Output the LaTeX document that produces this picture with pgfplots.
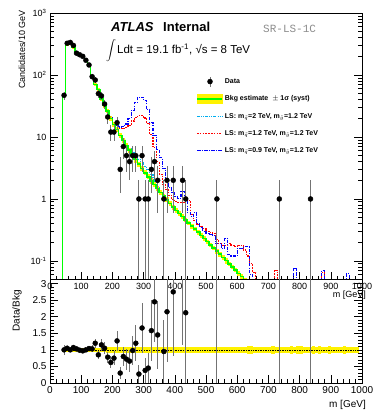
\documentclass[border=0pt]{standalone}
\usepackage{pgfplots}
\pgfplotsset{compat=1.18}
\usepackage{pgfplotstable}
\usepackage{fontspec}
\setmainfont{Liberation Sans}
\setmonofont{Liberation Mono}

% bin left edge, background, relative syst. error, stacked signal totals
\pgfplotstableread{
x bkg e cy rd bl
0 0.05 0.06 0.05 0.05 0.05
40 47 0.06 47 47 47
50 310 0.05 310 310 310
60 335 0.05 335 335 335
70 280 0.05 280 280 280
80 230 0.05 230 230 230
90 214 0.05 214 214 214
100 203 0.05 203 203 203
110 175 0.05 175 175 175
120 140 0.05 140 140 140
130 95 0.06 95 95 95
140 70 0.06 70 70 70
150 58 0.07 58 58 58
160 41 0.07 41 41 41
170 32 0.07 32 32 32
180 26 0.08 26 26 26
190 20 0.08 20 20 20.5
200 16 0.09 16 16 17
210 13.2 0.09 13.2 14.2 15.2
220 10.5 0.09 10.6 13.5 14.5
230 8.8 0.10 9.0 13.8 14.8
240 7.2 0.09 7.6 14.2 16.2
250 6.1 0.10 6.6 15.1 20
260 5.1 0.09 5.7 18.1 27
270 4.3 0.10 5.0 20.3 36
280 3.65 0.09 4.4 22.2 43.5
290 3.1 0.10 3.8 22.1 44
300 2.65 0.09 3.35 20.2 38.5
310 2.28 0.09 2.95 16.3 27.3
320 1.97 0.10 2.45 11.0 17
330 1.7 0.09 1.95 6.7 10.7
340 1.47 0.10 1.6 3.97 6.3
350 1.28 0.09 1.33 2.5 4.6
360 1.11 0.10 1.15 1.71 3.1
370 0.97 0.09 1.0 1.42 2.0
380 0.85 0.10 0.87 1.15 1.55
390 0.74 0.09 0.74 0.99 1.29
400 0.65 0.09 0.65 0.9 1.1
410 0.58 0.10 0.58 0.88 1.03
420 0.52 0.09 0.52 0.87 1.32
430 0.46 0.09 0.46 0.91 0.96
440 0.41 0.08 0.41 0.96 0.6
450 0.365 0.09 0.365 0.57 0.52
460 0.325 0.08 0.325 0.45 0.6
470 0.29 0.09 0.29 0.39 0.4
480 0.258 0.08 0.258 0.36 0.35
490 0.23 0.09 0.23 0.33 0.3
500 0.205 0.08 0.205 0.3 0.275
510 0.182 0.09 0.182 0.29 0.27
520 0.162 0.08 0.162 0.28 0.26
530 0.144 0.09 0.144 0.22 0.19
540 0.128 0.08 0.128 0.19 0.19
550 0.114 0.09 0.114 0.18 0.16
560 0.101 0.10 0.101 0.18 0.23
570 0.09 0.08 0.09 0.19 0.125
580 0.08 0.09 0.08 0.18 0.12
590 0.071 0.08 0.071 0.17 0.12
600 0.063 0.09 0.063 0.18 0.16
610 0.056 0.10 0.056 0.176 0.16
620 0.05 0.08 0.05 0.15 0.17
630 0.05 0.11 0.05 0.12 0.17
640 0.05 0.12 0.05 0.09 0.06
650 0.05 0.10 0.05 0.065 0.05
660 0.05 0.08 0.05 0.05 0.05
670 0.05 0.09 0.05 0.05 0.05
680 0.05 0.08 0.05 0.05 0.05
690 0.05 0.09 0.05 0.05 0.05
700 0.05 0.10 0.05 0.05 0.05
710 0.05 0.12 0.05 0.05 0.05
720 0.05 0.09 0.05 0.07 0.05
730 0.05 0.08 0.05 0.05 0.05
740 0.05 0.09 0.05 0.05 0.05
750 0.05 0.10 0.05 0.05 0.05
760 0.05 0.09 0.05 0.05 0.05
770 0.05 0.11 0.05 0.05 0.05
780 0.05 0.10 0.05 0.05 0.075
790 0.05 0.12 0.05 0.05 0.05
800 0.05 0.13 0.05 0.05 0.05
810 0.05 0.09 0.05 0.05 0.05
820 0.05 0.10 0.05 0.05 0.05
830 0.05 0.09 0.05 0.05 0.05
840 0.05 0.11 0.05 0.05 0.05
850 0.05 0.10 0.05 0.05 0.05
860 0.05 0.12 0.05 0.05 0.05
870 0.05 0.09 0.05 0.065 0.07
880 0.05 0.10 0.05 0.05 0.05
890 0.05 0.12 0.05 0.05 0.05
900 0.05 0.08 0.05 0.05 0.05
910 0.05 0.10 0.05 0.05 0.05
920 0.05 0.09 0.05 0.05 0.05
930 0.05 0.10 0.05 0.05 0.05
940 0.05 0.12 0.05 0.05 0.05
950 0.05 0.10 0.05 0.05 0.062
960 0.05 0.09 0.05 0.05 0.05
970 0.05 0.09 0.05 0.05 0.05
980 0.05 0.10 0.05 0.05 0.05
990 0.05 0.15 0.05 0.05 0.05
1000 0.05 0.15 0.05 0.05 0.05
}\hist

\pgfplotstableread{
x y ey
45 47 6.86
55 325 18.0
65 335 18.3
75 300 17.3
85 225 15.0
95 212 14.6
105 200 14.1
115 173 13.2
125 145 12.0
135 94 9.7
145 83 9.1
155 50 7.07
165 46 6.78
175 34 5.83
185 21 4.58
195 12 3.46
205 12 3.46
215 17 4.12
225 3 1.73
235 7 2.65
245 5 2.24
255 4 2.0
265 5 2.24
275 5 2.24
285 1 0.999
295 5 2.24
305 1 0.999
315 1 0.999
325 3 1.73
335 4 2.0
345 2 1.41
365 1 0.999
375 2 1.41
395 2 1.41
425 2 1.41
435 1 0.999
535 1 0.999
735 1 0.999
835 1 0.999
}\data

\pgfplotstableread{
x r er
45 1.0 0.15
55 1.05 0.06
65 1.0 0.055
75 1.07 0.06
85 1.03 0.07
95 0.99 0.07
105 0.97 0.07
115 1.0 0.076
125 1.04 0.086
135 1.03 0.106
145 1.2 0.13
155 0.85 0.12
165 1.15 0.17
175 1.05 0.18
185 0.78 0.17
195 0.62 0.18
205 0.75 0.22
215 1.27 0.31
225 0.3 0.17
235 0.8 0.30
245 0.72 0.32
255 0.66 0.33
265 0.98 0.44
275 1.2 0.54
285 0.27 0.27
295 1.66 0.74
305 0.38 0.38
315 0.45 0.45
325 1.58 0.91
335 2.45 1.22
345 1.45 1.03
365 0.95 0.95
375 2.15 1.52
395 2.75 1.94
425 3.85 2.7
435 2.12 2.12
535 7 7
735 80 80
835 80 80
}\ratio

\pgfplotsset{
  rootaxis/.style={
    scale only axis, width=312pt, xmin=0, xmax=1000,
    axis line style={line width=0.7pt},
    every tick/.style={black, line width=0.6pt},
    major tick length=8pt, minor tick length=4pt,
    xtick pos=bottom, ytick pos=both,
    xtick={0,100,...,1000},
    xticklabels={0,100,200,300,400,500,600,700,800,900,1000},
    minor x tick num=4,
    /pgf/number format/assume math mode=true,
  }
}

\begin{document}
\begin{tikzpicture}

\begin{axis}[rootaxis,
  at={(50pt,132.4pt)}, anchor=south west, height=266.6pt,
  ymode=log, ymin=0.05, ymax=1000,
  ytick={0.1,1,10,100,1000},
  yticklabels={10\textsuperscript{-1},1,10,10\textsuperscript{2},10\textsuperscript{3}},
  minor ytick={0.06,0.07,0.08,0.09,0.2,0.3,0.4,0.5,0.6,0.7,0.8,0.9,2,3,4,5,6,7,8,9,20,30,40,50,60,70,80,90,200,300,400,500,600,700,800,900},
  tick label style={font=\fontsize{9}{10}\selectfont},
  legend style={draw=none, fill=none, at={(axis description cs:0.468,0.764)}, anchor=north west,
    font=\fontsize{7}{8}\selectfont\bfseries, row sep=6.8pt, inner sep=0pt},
  legend cell align=left,
]
% signals (stacked on background)
\addplot[cyan, line width=1.1pt, dash pattern=on 3pt off 1.2pt on 0.8pt off 1.2pt on 0.8pt off 1.2pt, const plot, restrict x to domain=190:1000, forget plot] table[x=x,y=cy]{\hist};
\addplot[red, line width=1.1pt, dash pattern=on 1.6pt off 1.2pt, const plot, restrict x to domain=190:1000, forget plot] table[x=x,y=rd]{\hist};
\addplot[blue, line width=1.1pt, dash pattern=on 3.5pt off 1.3pt on 1pt off 1.3pt, const plot, restrict x to domain=190:1000, forget plot] table[x=x,y=bl]{\hist};
% background +- 1 sigma band, one bar per 10 GeV bin
\addplot[draw=none, mark=none, forget plot, restrict x to domain=40:630,
  error bars/.cd, y dir=both, y explicit, error mark=none,
  error bar style={draw=yellow, line width=3.2pt}]
  table[x expr=\thisrow{x}+5, y=bkg, y error expr=\thisrow{bkg}*\thisrow{e}]{\hist};
\addplot[green, line width=1.6pt, const plot, forget plot] table[x=x,y=bkg]{\hist};
% data
\addplot[only marks, mark=*, mark size=2.5pt, black, forget plot,
  error bars/.cd, y dir=both, y explicit, error mark=none,
  error bar style={black!55, line width=0.9pt}]
  table[x=x, y=y, y error=ey]{\data};

\addlegendimage{black, legend image code/.code={\draw[black!55, line width=0.9pt] (13pt,-5pt)--(13pt,5pt); \fill[black] (13pt,0pt) circle (2.5pt); \path[draw=none,fill=none] (0pt,0pt) (25pt,0pt);}}
\addlegendentry{Data}
\addlegendimage{yellow, legend image code/.code={\fill[yellow] (0pt,-4.5pt) rectangle (25pt,4.5pt); \draw[green, line width=1.6pt] (0pt,0pt)--(25pt,0pt);}}
\addlegendentry{Bkg estimate \ $\pm$ 1σ (syst)}
\addlegendimage{cyan, legend image code/.code={\draw[cyan, line width=1.1pt, dash pattern=on 3pt off 1.2pt on 0.8pt off 1.2pt on 0.8pt off 1.2pt] (0pt,0pt)--(25pt,0pt);}}
\addlegendentry{LS: m$_{\tilde{q}}$=2 TeV, m$_{\tilde{g}}$=1.2 TeV}
\addlegendimage{red, legend image code/.code={\draw[red, line width=1.1pt, dash pattern=on 1.6pt off 1.2pt] (0pt,0pt)--(25pt,0pt);}}
\addlegendentry{LS: m$_{\tilde{q}}$=1.2 TeV, m$_{\tilde{g}}$=1.2 TeV}
\addlegendimage{blue, legend image code/.code={\draw[blue, line width=1.1pt, dash pattern=on 3.5pt off 1.3pt on 1pt off 1.3pt] (0pt,0pt)--(25pt,0pt);}}
\addlegendentry{LS: m$_{\tilde{q}}$=0.9 TeV, m$_{\tilde{g}}$=1.2 TeV}
\end{axis}

\begin{axis}[rootaxis,
  at={(50pt,29pt)}, anchor=south west, height=103.4pt,
  ymin=0, ymax=3.12,
  ytick={0,0.5,1,1.5,2,2.5,3},
  yticklabels={0,0.5,1,1.5,2,2.5,3},
  minor y tick num=4,
  tick label style={font=\fontsize{10}{11}\selectfont},
  clip marker paths=true,
]
\addplot[draw=none, mark=none, forget plot, restrict x to domain=40:990,
  error bars/.cd, y dir=both, y explicit, error mark=none,
  error bar style={draw=yellow, line width=3.2pt}]
  table[x expr=\thisrow{x}+5, y expr=1, y error=e]{\hist};
\addplot[black, densely dotted, line width=0.7pt, forget plot] coordinates {(40,1) (1000,1)};
\addplot[only marks, mark=*, mark size=2.5pt, black, forget plot,
  error bars/.cd, y dir=both, y explicit, error mark=none,
  error bar style={black!55, line width=0.9pt}]
  table[x=x, y=r, y error=er]{\ratio};
\end{axis}

% texts
\node[anchor=west, inner sep=0pt, font=\fontsize{13}{13}\selectfont\bfseries\itshape] at (111pt,385pt) {ATLAS};
\node[anchor=west, inner sep=0pt, font=\fontsize{13}{13}\selectfont\bfseries] at (163pt,385pt) {Internal};
\node[anchor=west, inner sep=0pt, font=\fontsize{11}{11}\ttfamily, text=black!45] at (263pt,383pt) {SR-LS-1C};
\node[anchor=west, inner sep=0pt, font=\fontsize{11.5}{12}\selectfont] at (106pt,361pt) {$\displaystyle\int$\kern1pt Ldt = 19.1 fb\textsuperscript{-1}, √s = 8 TeV};
\node[rotate=90, anchor=east, inner sep=0pt, font=\fontsize{9}{9}\selectfont] at (22pt,402pt) {Candidates/10 GeV};
\node[rotate=90, anchor=east, inner sep=0pt, font=\fontsize{10}{10}\selectfont] at (17pt,122pt) {Data/Bkg};
\node[anchor=east, inner sep=0pt, font=\fontsize{9}{9}\selectfont] at (366pt,117pt) {m [GeV]};
\node[anchor=east, inner sep=0pt, font=\fontsize{10}{10}\selectfont] at (366pt,7pt) {m [GeV]};
\path[use as bounding box] (0,0) rectangle (376pt,412pt);
\end{tikzpicture}
\end{document}
